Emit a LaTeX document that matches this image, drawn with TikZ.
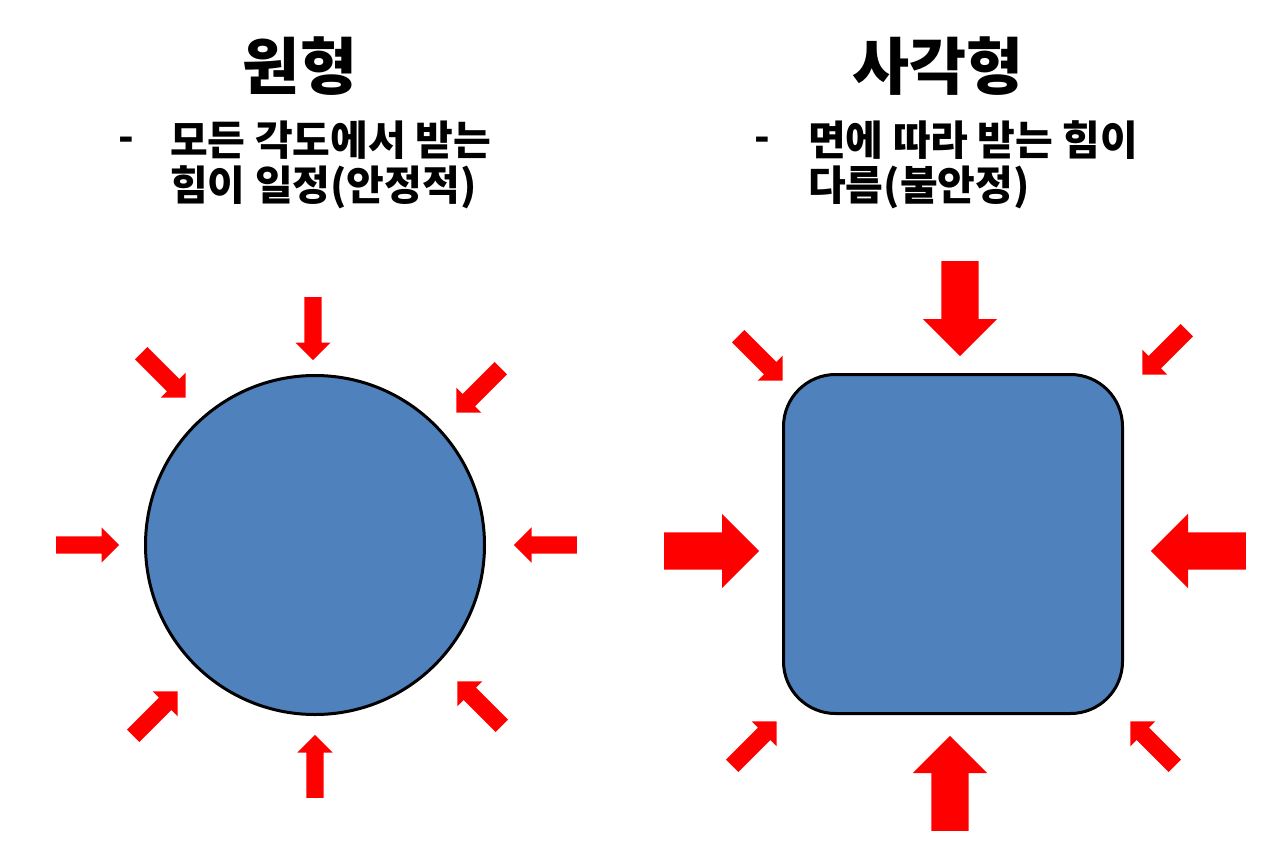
\documentclass[tikz,border=0pt]{standalone}
\usepackage{fontspec}
\setmainfont{Noto Sans CJK KR}
\usetikzlibrary{shapes.arrows}
\definecolor{shapeblue}{HTML}{4F81BD}
\definecolor{pushred}{HTML}{FF0000}
\tikzset{
  push/.style={single arrow, anchor=tail, fill=pushred, inner sep=0pt, inner ysep=8.5pt,
    single arrow head extend=9pt, minimum height=63pt},
  bigpush/.style={push, inner ysep=18.5pt, single arrow head extend=18.5pt, minimum height=95pt},
  body/.style={draw=black, line width=3pt, fill=shapeblue},
  headline/.style={font=\fontsize{62}{74}\selectfont\bfseries},
  note/.style={font=\fontsize{41}{49}\selectfont\bfseries, inner sep=0pt},
}

\begin{document}
\begin{tikzpicture}[x=1pt,y=-1pt]
\useasboundingbox (0,0) rectangle (1280,865);
% titles
\node[headline] (roundtitle) at (300,66) {원형};
\node[headline] (squaretitle) at (938,66) {사각형};
\node[note] (rounddash) at (126,144) {-};
\node[note,anchor=west] (roundnote1) at (170,140) {모든 각도에서 받는};
\node[note,anchor=west] (roundnote2) at (170,187) {힘이 일정(안정적)};
\node[note] (squaredash) at (762,144) {-};
\node[note,anchor=west] (squarenote1) at (808,140) {면에 따라 받는 힘이};
\node[note,anchor=west] (squarenote2) at (808,187) {다름(불안정)};
% the two bodies
\node[body,circle,minimum size=339pt] (round) at (315,545) {};
\node[body,rectangle,rounded corners=52pt,minimum size=339pt] (square) at (953,544) {};
% forces on the circle (tail point / direction)
\foreach \x/\y/\a [count=\i] in {313/297/-90, 315/798/90, 56/545/0, 577/545/180,
  141/353/-45, 501/368/-135, 133/736/45, 502/726/135}
  \node[push,rotate=\a] (roundpush\i) at (\x,\y) {};
% forces on the square
\foreach \x/\y/\a [count=\i] in {960/261/-90, 950/831/90, 664/551/0, 1246/551/180}
  \node[bigpush,rotate=\a] (squarepush\i) at (\x,\y) {};
\foreach \x/\y/\a [count=\i] in {738/336/-45, 1187/330/-135, 732/766/45, 1175/766/135}
  \node[push,rotate=\a] (cornerpush\i) at (\x,\y) {};
\end{tikzpicture}
\end{document}
